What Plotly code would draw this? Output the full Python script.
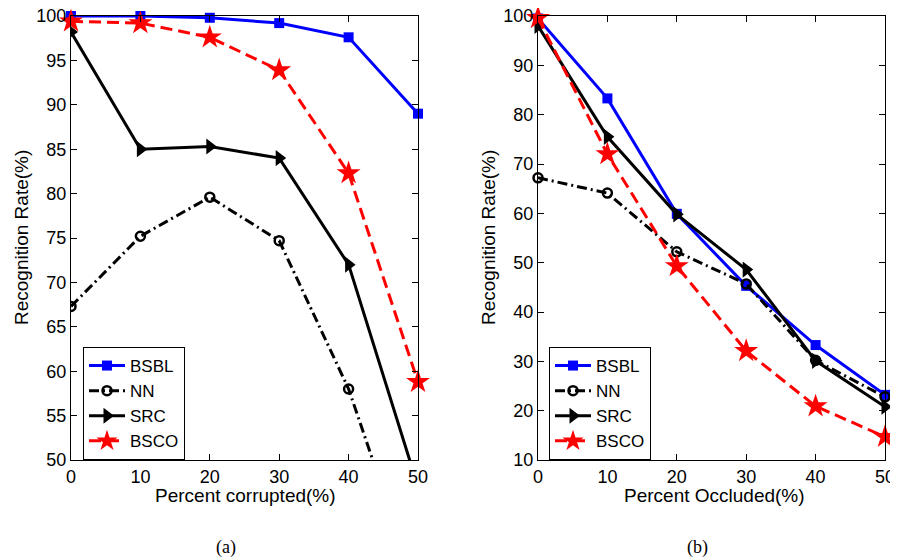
import plotly.graph_objects as go

x_vals = [0, 10, 20, 30, 40, 50]

# (a) Percent corrupted
a_bsbl = [100.0, 100.0, 99.8, 99.2, 97.6, 89.0]
a_nn = [67.3, 75.2, 79.6, 74.7, 58.0, 35.0]
a_src = [98.2, 85.0, 85.3, 84.0, 72.0, 47.0]
a_bsco = [99.4, 99.2, 97.6, 93.9, 82.3, 58.8]

# (b) Percent occluded
b_bsbl = [99.5, 83.3, 59.9, 45.3, 33.3, 23.2]
b_nn = [67.2, 64.1, 52.2, 45.7, 30.2, 22.8]
b_src = [98.0, 75.5, 59.8, 48.6, 30.1, 20.8]
b_bsco = [99.6, 72.0, 49.3, 32.1, 20.9, 14.7]

names = ["BSBL", "NN", "SRC", "BSCO"]
colors = ["#0000ff", "#000000", "#000000", "#ff0000"]
dashes = ["solid", "10px,4px,2px,4px", "solid", "12px,6px"]
symbols = ["square", "circle-open", "triangle-right", "star"]
msizes = [10, 9, 14, 18]

# page is offset by the body margin; figure is sized to the visible area
OFF = 8
W, H = 898 - OFF, 560 - OFF

def px(x):
    return (x - OFF) / W

def py(y):
    return 1 - (y - OFF) / H

fig = go.Figure()

def add_series(data, xa, ya, leg, clips):
    for i, ys in enumerate(data):
        fig.add_trace(go.Scatter(
            x=x_vals, y=ys, name=names[i], mode="lines+markers",
            line=dict(color=colors[i], width=3, dash=dashes[i]),
            marker=dict(symbol=symbols[i], size=msizes[i], color=colors[i],
                        line=dict(color=colors[i], width=2.5 if i == 1 else 0)),
            xaxis=xa, yaxis=ya, legend=leg, cliponaxis=clips[i]))

add_series([a_bsbl, a_nn, a_src, a_bsco], "x", "y", "legend", [False, True, True, False])
add_series([b_bsbl, b_nn, b_src, b_bsco], "x2", "y2", "legend2", [False, False, False, False])

FONT = "Liberation Sans, Arial"
FS_TICK = 18
FS_LEG = 17
FS_TITLE = 19
ax_common = dict(showline=True, linecolor="black", linewidth=1.2, mirror="allticks",
                 ticks="inside", ticklen=6, tickcolor="black", showgrid=False, zeroline=False,
                 automargin=False, ticklabeloverflow="allow",
                 tickfont=dict(family=FONT, size=FS_TICK, color="black"))

def ann(text, x, y, angle=0, family=FONT, size=FS_TITLE):
    return dict(text=text, x=px(x), y=py(y), xref="paper", yref="paper", showarrow=False,
                xanchor="center", yanchor="middle", textangle=angle,
                font=dict(family=family, size=size, color="black"))

fig.update_layout(
    width=W, height=H,
    margin=dict(l=0, r=0, t=0, b=0, autoexpand=False),
    paper_bgcolor="white", plot_bgcolor="white",
    font=dict(family=FONT, color="black"),
    xaxis=dict(domain=[px(71), px(418)], range=[0, 50], tickvals=x_vals, anchor="y", **ax_common),
    yaxis=dict(domain=[py(460), py(16)], range=[50, 100], dtick=5, anchor="x", **ax_common),
    xaxis2=dict(domain=[px(538), px(885)], range=[0, 50], tickvals=x_vals, anchor="y2", **ax_common),
    yaxis2=dict(domain=[py(460), py(16)], range=[10, 100], dtick=10, anchor="x2", **ax_common),
    legend=dict(x=px(83), y=py(347), xanchor="left", yanchor="top", bgcolor="white",
                bordercolor="black", borderwidth=1, font=dict(size=FS_LEG), tracegroupgap=0,
                itemwidth=36),
    legend2=dict(x=px(549), y=py(347), xanchor="left", yanchor="top", bgcolor="white",
                 bordercolor="black", borderwidth=1, font=dict(size=FS_LEG), tracegroupgap=0,
                 itemwidth=36),
    annotations=[
        ann("Percent corrupted(%)", 245, 495),
        ann("Percent Occluded(%)", 714, 495),
        ann("Recognition Rate(%)", 21, 238, angle=-90),
        ann("Recognition Rate(%)", 488, 238, angle=-90),
        ann("(a)", 226, 547, family="Liberation Serif, Times New Roman", size=18),
        ann("(b)", 697, 547, family="Liberation Serif, Times New Roman", size=18),
    ],
)

fig.write_html("out.html")
